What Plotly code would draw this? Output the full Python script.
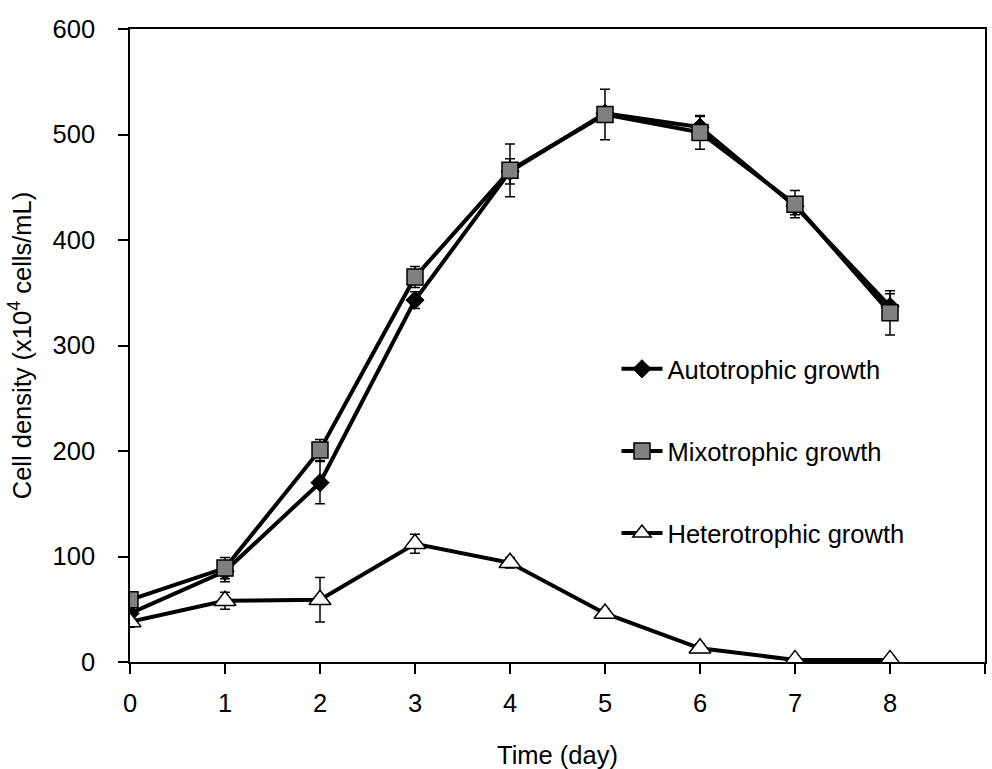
import plotly.graph_objects as go

days = [0, 1, 2, 3, 4, 5, 6, 7, 8]

auto_vals = [46, 86, 170, 343, 465, 520, 507, 432, 337]
auto_err = [4, 10, 20, 8, 12, 6, 10, 8, 12]

mixo_vals = [59, 89, 201, 365, 466, 519, 502, 434, 331]
mixo_err = [5, 10, 10, 10, 25, 24, 16, 13, 21]

hetero_vals = [38, 58, 59, 112, 94, 46, 13, 2, 2]
hetero_err = [5, 8, 21, 9, 5, 4, 4, 1, 1]

x_ticks = [0, 1, 2, 3, 4, 5, 6, 7, 8, 9]
y_ticks = [0, 100, 200, 300, 400, 500, 600]

FONT = "Liberation Sans, Arial, sans-serif"
FS = 25.5

fig = go.Figure()

fig.add_trace(go.Scatter(
    x=days, y=auto_vals, name="Autotrophic growth", legendgroup="a",
    mode="lines+markers",
    line=dict(color="black", width=4),
    marker=dict(symbol="diamond", size=14, color="black", line=dict(color="black", width=1)),
    error_y=dict(type="data", array=auto_err, visible=True, color="black", thickness=1.5, width=5),
))
fig.add_trace(go.Scatter(
    x=days, y=mixo_vals, name="Mixotrophic growth", legendgroup="m",
    mode="lines+markers",
    line=dict(color="black", width=4),
    marker=dict(symbol="square", size=16, color="#808080", line=dict(color="black", width=1.5)),
    error_y=dict(type="data", array=mixo_err, visible=True, color="black", thickness=1.5, width=5),
))
fig.add_trace(go.Scatter(
    x=days, y=hetero_vals, name="Heterotrophic growth", legendgroup="h",
    mode="lines+markers",
    line=dict(color="black", width=4),
    marker=dict(symbol="triangle-up", size=19, color="white", line=dict(color="black", width=1.5)),
    error_y=dict(type="data", array=hetero_err, visible=True, color="black", thickness=1.5, width=5),
))

fig.update_layout(
    width=992, height=769,
    margin=dict(l=130, r=7, t=29, b=107),
    paper_bgcolor="white", plot_bgcolor="white",
    font=dict(family=FONT, size=FS, color="black"),
    showlegend=True,
    legend=dict(
        x=0.569, xanchor="left", y=0.333, yanchor="middle",
        traceorder="grouped", tracegroupgap=46, itemwidth=41,
        bgcolor="rgba(0,0,0,0)", borderwidth=0,
        font=dict(family=FONT, size=FS, color="black"),
    ),
    xaxis=dict(
        range=[0, 9], tickvals=x_ticks, ticktext=[str(v) for v in x_ticks],
        showgrid=False, zeroline=False,
        showline=True, linecolor="black", linewidth=1.5, mirror=True,
        ticks="outside", ticklen=10, tickwidth=1.5, tickcolor="black",
        ticklabelstandoff=8,
        title=dict(text="Time (day)", font=dict(family=FONT, size=FS), standoff=30),
        automargin=False,
    ),
    yaxis=dict(
        range=[0, 600], tickvals=y_ticks, ticktext=[str(v) for v in y_ticks],
        showgrid=False, zeroline=False,
        showline=True, linecolor="black", linewidth=1.5, mirror=True,
        ticks="outside", ticklen=10, tickwidth=1.5, tickcolor="black",
        ticklabelstandoff=18,
        title=dict(text="Cell density (x10<sup>4</sup> cells/mL)", font=dict(family=FONT, size=FS), standoff=14),
        automargin=False,
    ),
)

fig.write_html("out.html")
